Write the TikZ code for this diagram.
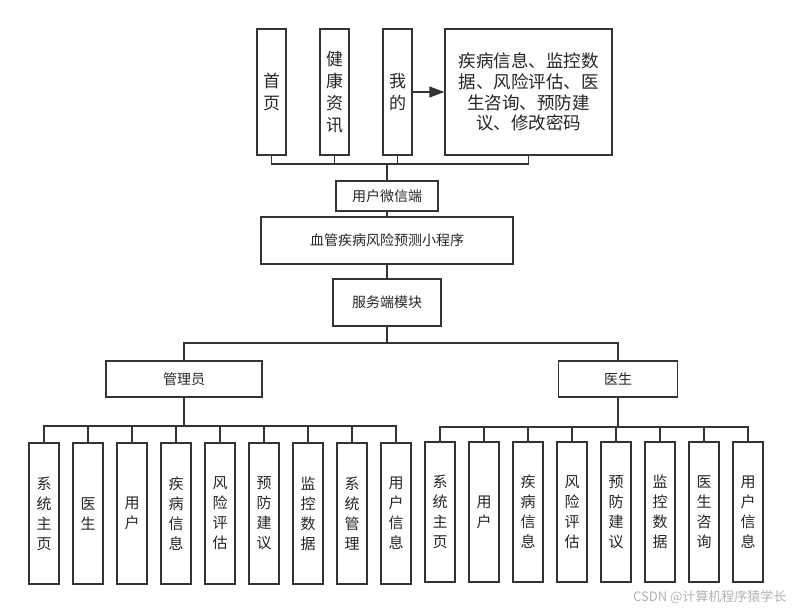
\documentclass[tikz,border=0pt]{standalone}
\usepackage{fontspec}
\newfontfamily\cjk{Noto Sans CJK SC}
\usetikzlibrary{arrows.meta}
\definecolor{ln}{HTML}{333333}
\tikzset{
  box/.style={draw=ln, line width=1.35pt, fill=white, inner sep=0pt, align=center, text=black!85},
  topbox/.style={box, minimum width=29pt, minimum height=126pt, font=\cjk\fontsize{17}{22}\selectfont},
  midbox/.style={box, minimum height=#1, font=\cjk\fontsize{14}{16}\selectfont},
  leafbox/.style={box, minimum width=30pt, minimum height=141pt, font=\cjk\fontsize{15}{20}\selectfont},
  conn/.style={draw=ln, line width=1.35pt},
}
\begin{document}
\begin{tikzpicture}[x=1pt,y=-1pt]
\useasboundingbox (0,0) rectangle (803,614);
% top row
\node[topbox] (shouye) at (271.5,92) {首\\页};
\node[topbox] (jk) at (334.5,92) {健\\康\\资\\讯};
\node[topbox] (wode) at (397.5,92) {我\\的};
\node[box, minimum width=167pt, minimum height=126pt, font=\cjk\fontsize{17.5}{20.7}\selectfont] (big) at (528.5,92)
  {疾病信息、监控数\\据、风险评估、医\\生咨询、预防建\\议、修改密码};
\draw[conn, -{Triangle[length=15pt,width=11pt]}] (wode.east) -- (big.west);
% middle
\node[midbox=30pt, minimum width=102pt] (wx) at (387,196) {用户微信端};
\node[midbox=47pt, minimum width=252pt] (app) at (387,240.5) {血管疾病风险预测小程序};
\node[midbox=47pt, minimum width=108pt] (fw) at (387,302.5) {服务端模块};
\coordinate (tb) at (387,164);
\draw[conn] (shouye.south) |- (tb);
\draw[conn] (jk.south) |- (tb);
\draw[conn] (wode.south) |- (tb);
\draw[conn] (big.south) |- (tb);
\draw[conn] (tb) -- (wx.north);
\draw[conn] (wx.south) -- (app.north);
\draw[conn] (app.south) -- (fw.north);
% roles
\node[midbox=36pt, minimum width=156pt] (gly) at (184,379) {管理员};
\node[midbox=36pt, minimum width=119pt] (ys) at (618,379) {医生};
\coordinate (mb) at (387,343);
\draw[conn] (fw.south) -- (mb);
\draw[conn] (mb) -| (gly.north);
\draw[conn] (mb) -| (ys.north);
% admin leaves
\coordinate (lb) at (184,426);
\draw[conn] (gly.south) -- (lb);
\foreach \t [count=\i] in {系\\统\\主\\页, 医\\生, 用\\户, 疾\\病\\信\\息, 风\\险\\评\\估, 预\\防\\建\\议, 监\\控\\数\\据, 系\\统\\管\\理, 用\\户\\信\\息}{
  \node[leafbox] (L\i) at ({44+44*(\i-1)},513.5) {\t};
  \draw[conn] (lb) -| (L\i.north);
}
% doctor leaves
\coordinate (rb) at (618,427);
\draw[conn] (ys.south) -- (rb);
\foreach \t [count=\i] in {系\\统\\主\\页, 用\\户, 疾\\病\\信\\息, 风\\险\\评\\估, 预\\防\\建\\议, 监\\控\\数\\据, 医\\生\\咨\\询, 用\\户\\信\\息}{
  \node[leafbox, minimum height=140pt] (R\i) at ({440+44*(\i-1)},512) {\t};
  \draw[conn] (rb) -| (R\i.north);
}
% watermark
\node[font=\cjk\fontsize{13}{15}\selectfont, text=black!30, anchor=east] (wm) at (790,597) {CSDN @计算机程序猿学长};
\end{tikzpicture}
\end{document}
